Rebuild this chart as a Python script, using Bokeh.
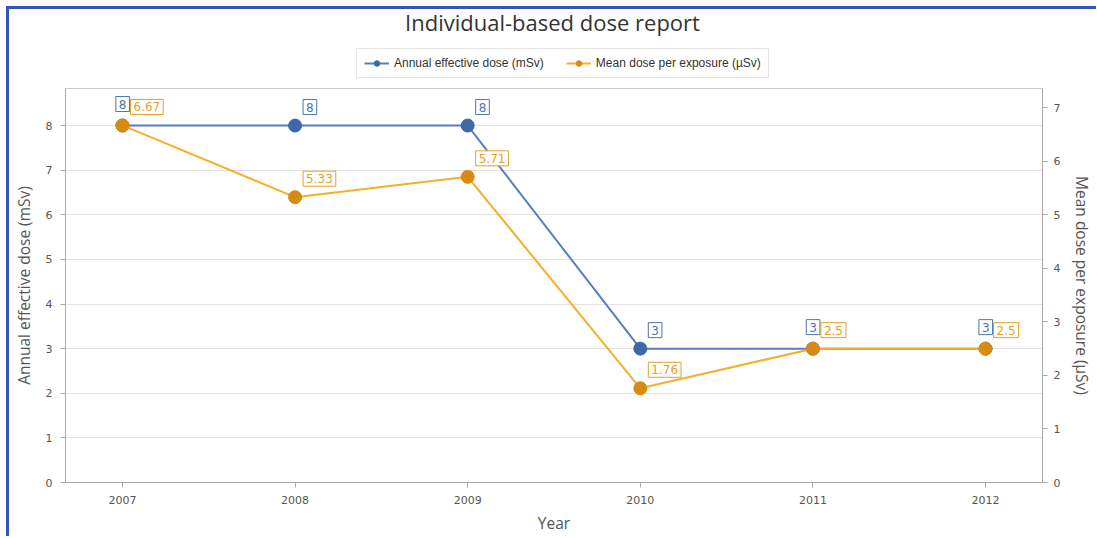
from bokeh.plotting import figure
from bokeh.layouts import column
from bokeh.models import (Range1d, LinearAxis, FixedTicker, Legend, LegendItem,
                          ColumnDataSource, Label)
from bokeh.core.properties import value
from bokeh.embed import file_html
from bokeh.resources import INLINE

# ---- data ----
years = [2007, 2008, 2009, 2010, 2011, 2012]
annual_dose = [8, 8, 8, 3, 3, 3]
mean_dose = [6.67, 5.33, 5.71, 1.76, 2.5, 2.5]
annual_labels = ["8", "8", "8", "3", "3", "3"]
mean_labels = ["6.67", "5.33", "5.71", "1.76", "2.5", "2.5"]
left_ticks = [0, 1, 2, 3, 4, 5, 6, 7, 8]
right_ticks = [0, 1, 2, 3, 4, 5, 6, 7]
series_names = ["Annual effective dose (mSv)", "Mean dose per exposure (µSv)"]
title_text = "Individual-based dose report"

LEFT_MAX = 8.83
RIGHT_MAX = 7.36

BLUE_LINE = "#5580bb"
BLUE_DOT = "#3d69a8"
BLUE_TXT = "#4a76b0"
ORANGE_LINE = "#f3b02c"
ORANGE_DOT = "#d98a12"
ORANGE_TXT = "#e3a22a"
GRAY = "#555555"
AXIS = "#aaaaaa"
FRAME_BLUE = "#2f56b3"
W = 1096
TOP_H = 88
MAIN_H = 448

src_a = ColumnDataSource(dict(x=years, y=annual_dose, t=annual_labels))
src_m = ColumnDataSource(dict(x=years, y=mean_dose, t=mean_labels))

# ---- header figure: title + legend (its frame is aligned with the chart's frame) ----
top = figure(width=W, height=TOP_H, x_range=Range1d(0, 1), y_range=Range1d(0, 1), title=None,
             x_axis_type=None, y_axis_type=None, output_backend="svg", toolbar_location=None,
             min_border_left=0, min_border_right=0, min_border_top=0, min_border_bottom=0)
top.outline_line_color = None
top.grid.grid_line_color = None
top.background_fill_color = None
top.border_fill_color = None

top.add_layout(Label(x=487, y=67, x_units="screen", y_units="screen", text=title_text,
                     text_align="center", text_baseline="alphabetic", text_font="Open Sans",
                     text_font_size="22px", text_color="#333333"))

# legend proxies (the data lies outside this header's ranges, so only the legend shows them)
ta_l = top.line("x", "y", source=src_a, line_color=BLUE_LINE, line_width=2)
ta_s = top.scatter("x", "y", source=src_a, size=10, fill_color=BLUE_DOT, line_color=BLUE_DOT)
tm_l = top.line("x", "y", source=src_m, line_color=ORANGE_LINE, line_width=2)
tm_s = top.scatter("x", "y", source=src_m, size=10, fill_color=ORANGE_DOT, line_color=ORANGE_DOT)

legend = Legend(items=[LegendItem(label=series_names[0], renderers=[ta_l, ta_s], index=0),
                       LegendItem(label=series_names[1], renderers=[tm_l, tm_s], index=0)],
                orientation="horizontal", location=(291, 10))
legend.label_text_font = "Liberation Sans"
legend.label_text_font_size = "12px"
legend.label_text_color = "#333333"
legend.border_line_color = "#cccccc"
legend.background_fill_color = "white"
legend.glyph_width = 25
legend.glyph_height = 14
legend.label_standoff = 5
legend.spacing = 22
legend.padding = 7
legend.margin = 0
top.add_layout(legend, "center")

# ---- main chart ----
p = figure(width=W, height=MAIN_H,
           x_range=Range1d(2006.67, 2012.33), y_range=Range1d(0, LEFT_MAX),
           output_backend="svg", toolbar_location=None,
           min_border_left=65, min_border_right=51, min_border_top=0, min_border_bottom=53)
p.border_fill_color = None
p.extra_y_ranges = {"right": Range1d(0, RIGHT_MAX)}

p.line("x", "y", source=src_a, line_color=BLUE_LINE, line_width=2)
p.scatter("x", "y", source=src_a, size=13, fill_color=BLUE_DOT, line_color=BLUE_DOT)
p.line("x", "y", source=src_m, line_color=ORANGE_LINE, line_width=2, y_range_name="right")
p.scatter("x", "y", source=src_m, size=13, fill_color=ORANGE_DOT, line_color=ORANGE_DOT,
          y_range_name="right")

# data labels (blue label moves aside when both points coincide on screen)
a_align, a_xo, a_yo = [], [], []
for a, m in zip(annual_dose, mean_dose):
    if abs(a / LEFT_MAX - m / RIGHT_MAX) < 0.03:
        a_align.append("right"); a_xo.append(7); a_yo.append(-14)
    else:
        a_align.append("left"); a_xo.append(8); a_yo.append(-11)
src_al = ColumnDataSource(dict(x=years, y=annual_dose, t=annual_labels, al=a_align, xo=a_xo, yo=a_yo))
p.text("x", "y", text="t", source=src_al, text_align="al", x_offset="xo", y_offset="yo",
       text_baseline="bottom", text_font=value("DejaVu Sans"), text_font_size="12px",
       text_color=BLUE_TXT, background_fill_color="white", border_line_color=BLUE_TXT,
       border_line_width=1, padding=3)
p.text("x", "y", text="t", source=src_m, text_align="left", x_offset=8, y_offset=-11,
       text_baseline="bottom", text_font=value("DejaVu Sans"), text_font_size="12px",
       text_color=ORANGE_TXT, background_fill_color="white", border_line_color=ORANGE_TXT,
       border_line_width=1, padding=3, y_range_name="right")

# axes
p.xaxis.ticker = FixedTicker(ticks=years)
p.xaxis.axis_label = "Year"
p.yaxis.ticker = FixedTicker(ticks=left_ticks)
p.yaxis.axis_label = series_names[0]
right_axis = LinearAxis(y_range_name="right", ticker=FixedTicker(ticks=right_ticks),
                        axis_label=series_names[1])
p.add_layout(right_axis, "right")

for ax in [p.xaxis[0], p.yaxis[0], right_axis]:
    ax.axis_line_color = AXIS
    ax.major_tick_line_color = AXIS
    ax.major_tick_out = 5
    ax.major_tick_in = 0
    ax.minor_tick_line_color = None
    ax.major_label_text_font = "DejaVu Sans"
    ax.major_label_text_font_size = "11px"
    ax.major_label_text_color = GRAY
    ax.axis_label_text_font = "Open Sans"
    ax.axis_label_text_font_size = "15.5px"
    ax.axis_label_text_font_style = "normal"
    ax.axis_label_text_color = GRAY
p.yaxis.major_label_standoff = 8
p.yaxis.axis_label_standoff = 8
right_axis.major_label_standoff = 6
right_axis.axis_label_standoff = 8
p.xaxis.major_label_standoff = 8
p.xaxis.axis_label_standoff = 5

p.xgrid.grid_line_color = None
p.ygrid.grid_line_color = "#e2e2e2"
p.outline_line_color = "#cccccc"

# blue window frame (top and left edges) painted behind the transparent figure borders
frame_css = (f"linear-gradient({FRAME_BLUE}, {FRAME_BLUE}) 6px 6px / 100% 3px no-repeat, "
             f"linear-gradient({FRAME_BLUE}, {FRAME_BLUE}) 6px 6px / 3px 100% no-repeat, #ffffff")
layout = column(top, p, spacing=0, styles={"background": frame_css})

open("out.html", "w").write(file_html(layout, INLINE))
